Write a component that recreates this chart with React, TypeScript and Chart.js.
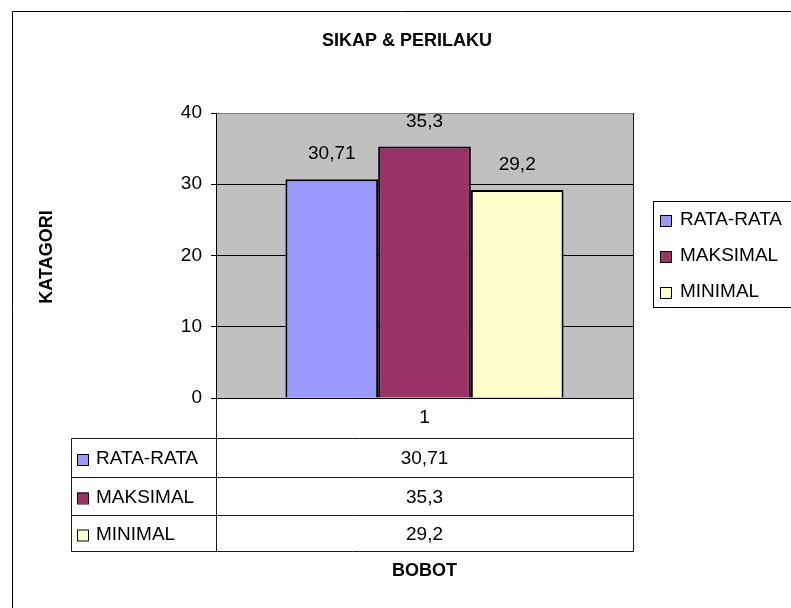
import React, { useEffect, useRef } from "react";
import { Chart, registerables } from "chart.js";

Chart.register(...registerables);

const categories = ["1"];
const seriesNames = ["RATA-RATA", "MAKSIMAL", "MINIMAL"];
const rataRata = [30.71];
const maksimal = [35.3];
const minimal = [29.2];
const seriesColors = ["#9999FF", "#993366", "#FFFFCC"];
const yMin = 0;
const yMax = 40;
const yStep = 10;
const titleText = "SIKAP & PERILAKU";
const yTitle = "KATAGORI";
const xTitle = "BOBOT";

const FONT = "'Liberation Sans', Arial, sans-serif";
const fmt = (v: number) => String(v).replace(".", ",");

export default function App() {
  const ref = useRef<HTMLCanvasElement | null>(null);

  useEffect(() => {
    const canvas = ref.current;
    if (!canvas) return;
    const series = [rataRata, maksimal, minimal];

    const decor = {
      id: "decor",
      beforeDatasetsDraw(chart: any) {
        const { ctx, chartArea: a } = chart;
        ctx.save();
        ctx.strokeStyle = "#808080";
        ctx.lineWidth = 1;
        ctx.beginPath();
        ctx.moveTo(a.right + 0.5, a.top);
        ctx.lineTo(a.right + 0.5, a.bottom);
        ctx.stroke();
        ctx.restore();
      },
      beforeDraw(chart: any) {
        const { ctx, chartArea: a } = chart;
        ctx.save();
        ctx.fillStyle = "#FFFFFF";
        ctx.fillRect(0, 0, chart.width, chart.height);
        ctx.fillStyle = "#C0C0C0";
        ctx.fillRect(a.left, a.top, a.right - a.left, a.bottom - a.top);
        ctx.restore();
      },
      afterDraw(chart: any) {
        const { ctx, chartArea: a } = chart;
        ctx.save();
        ctx.fillStyle = "#000";
        ctx.strokeStyle = "#000";
        ctx.lineWidth = 1;

        // outer frame
        ctx.beginPath();
        ctx.moveTo(12.5, chart.height);
        ctx.lineTo(12.5, 11.5);
        ctx.lineTo(chart.width, 11.5);
        ctx.stroke();

        // title
        ctx.font = `bold 18px ${FONT}`;
        ctx.textAlign = "center";
        ctx.textBaseline = "middle";
        ctx.fillText(titleText, 407, 41);

        // y title
        ctx.save();
        ctx.translate(47, 257);
        ctx.rotate(-Math.PI / 2);
        ctx.fillText(yTitle, 0, 0);
        ctx.restore();

        // data labels above bars
        ctx.font = `19px ${FONT}`;
        series.forEach((vals, i) => {
          const meta = chart.getDatasetMeta(i);
          meta.data.forEach((bar: any, j: number) => {
            ctx.fillText(fmt(vals[j]), bar.x, bar.y - 25);
          });
        });

        // data table
        const tLeft = 71.5;
        const colX = a.left + 0.5;
        const right = a.right + 0.5;
        const catBottom = 438.5;
        const rowLines = [catBottom, 477.5, 515.5, 551.5];
        ctx.strokeStyle = "#1a1a1a";
        ctx.beginPath();
        ctx.moveTo(colX, a.bottom);
        ctx.lineTo(colX, rowLines[3]);
        ctx.moveTo(right, a.top);
        ctx.lineTo(right, rowLines[3]);
        ctx.moveTo(tLeft, catBottom);
        ctx.lineTo(tLeft, rowLines[3]);
        rowLines.forEach((y) => {
          ctx.moveTo(tLeft, y);
          ctx.lineTo(right, y);
        });
        ctx.stroke();

        const cx = chart.scales.x.getPixelForValue(0);
        ctx.fillText(categories[0], cx, (a.bottom + catBottom) / 2);

        for (let i = 0; i < seriesNames.length; i++) {
          const yc = (rowLines[i] + rowLines[i + 1]) / 2 + 1;
          ctx.fillStyle = seriesColors[i];
          ctx.fillRect(77, yc - 5, 11, 11);
          ctx.strokeStyle = "#000";
          ctx.strokeRect(77.5, yc - 4.5, 11, 11);
          ctx.fillStyle = "#000";
          ctx.textAlign = "left";
          ctx.fillText(seriesNames[i], 96, yc);
          ctx.textAlign = "center";
          ctx.fillText(fmt(series[i][0]), cx, yc);
        }

        // x title
        ctx.font = `bold 18px ${FONT}`;
        ctx.fillText(xTitle, cx, 571);

        // legend
        ctx.strokeStyle = "#000";
        ctx.strokeRect(653.5, 201.5, 200, 106);
        ctx.font = `19px ${FONT}`;
        ctx.textAlign = "left";
        const legY = [220, 256, 292];
        for (let i = 0; i < seriesNames.length; i++) {
          ctx.fillStyle = seriesColors[i];
          ctx.fillRect(660, legY[i] - 5, 11, 11);
          ctx.strokeRect(660.5, legY[i] - 4.5, 11, 11);
          ctx.fillStyle = "#000";
          ctx.fillText(seriesNames[i], 680, legY[i]);
        }
        ctx.restore();
      },
    };

    const chart = new Chart(canvas, {
      type: "bar",
      data: {
        labels: categories,
        datasets: seriesNames.map((name, i) => ({
          label: name,
          data: series[i],
          backgroundColor: seriesColors[i],
          borderColor: "#000",
          borderWidth: 2,
          categoryPercentage: 0.667,
          barPercentage: 1,
        })),
      },
      options: {
        responsive: false,
        animation: false,
        devicePixelRatio: 1,
        layout: { padding: { left: 0, top: 113, right: 158, bottom: 210 } },
        plugins: {
          legend: { display: false },
          title: { display: false },
          tooltip: { enabled: false },
        },
        scales: {
          x: { display: false },
          y: {
            min: yMin,
            max: yMax,
            afterFit(scale: any) {
              scale.width = 216;
            },
            ticks: {
              stepSize: yStep,
              color: "#000",
              font: { family: FONT, size: 19 },
              padding: 9,
            },
            grid: {
              color: (c: any) => (c.tick && c.tick.value === yMax ? "#808080" : "#000"),
              lineWidth: 1,
              tickLength: 5,
              tickColor: "#000",
              drawOnChartArea: true,
            },
            border: { display: true, color: "#000", width: 1 },
          },
        },
      },
      plugins: [decor],
    });
    return () => chart.destroy();
  }, []);

  return (
    <div style={{ position: "absolute", left: 0, top: 0, width: 791, height: 608 }}>
      <canvas ref={ref} width={791} height={608} />
    </div>
  );
}
